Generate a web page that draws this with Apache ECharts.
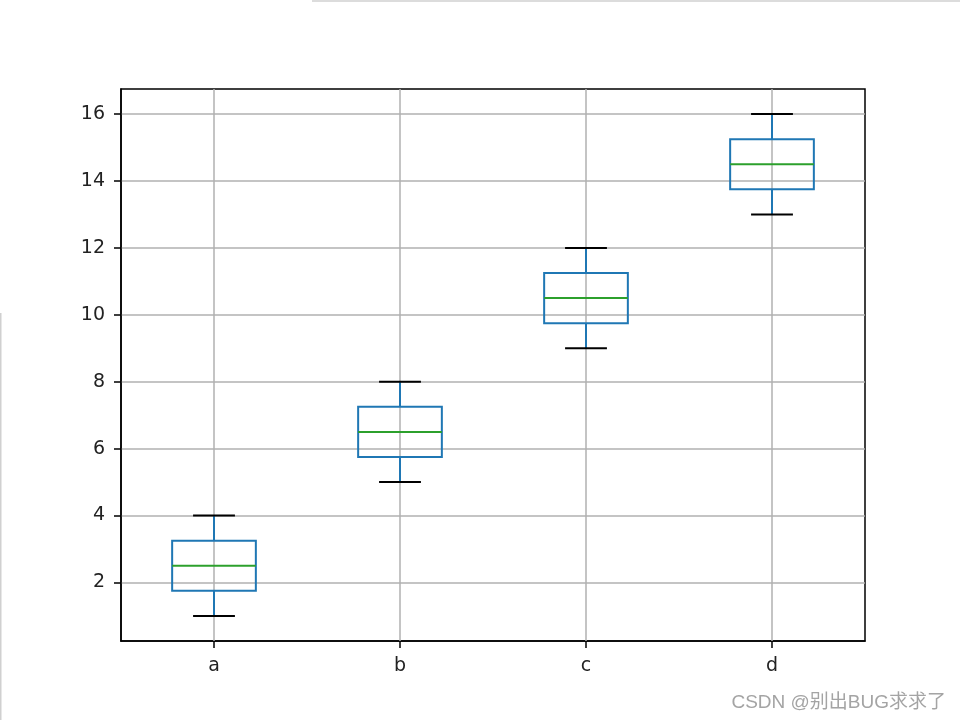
<!DOCTYPE html>
<html>
<head>
<meta charset="utf-8">
<script src="https://cdn.jsdelivr.net/npm/echarts@6/dist/echarts.min.js"></script>
<style>
html,body{margin:0;padding:0;background:#fff;}
#chart{width:960px;height:720px;}
</style>
</head>
<body>
<div id="chart"></div>
<script>
// Box statistics
var categories = ['a', 'b', 'c', 'd'];
var whiskerLow = [1, 5, 9, 13];
var quartile1 = [1.75, 5.75, 9.75, 13.75];
var medians = [2.5, 6.5, 10.5, 14.5];
var quartile3 = [3.25, 7.25, 11.25, 15.25];
var whiskerHigh = [4, 8, 12, 16];
var yTickLabels = [2, 4, 6, 8, 10, 12, 14, 16];
var yMin = 0.25, yMax = 16.75;

var boxData = categories.map(function (c, i) {
  return [i, whiskerLow[i], quartile1[i], medians[i], quartile3[i], whiskerHigh[i]];
});

var FONT = 'DejaVu Sans';
var chart = echarts.init(document.getElementById('chart'), null, {renderer: 'canvas'});

function renderGrid(params, api) {
  var x = api.coord([api.value(0), yMin])[0];
  var cs = params.coordSys;
  return {
    type: 'line',
    shape: {x1: x, y1: cs.y, x2: x, y2: cs.y + cs.height},
    style: {stroke: '#b0b0b0', lineWidth: 1.5},
    silent: true
  };
}

function renderBox(params, api) {
  var idx = api.value(0);
  var pLow = api.coord([idx, api.value(1)]);
  var pQ1 = api.coord([idx, api.value(2)]);
  var pMed = api.coord([idx, api.value(3)]);
  var pQ3 = api.coord([idx, api.value(4)]);
  var pHigh = api.coord([idx, api.value(5)]);
  var band = api.size([1, 0])[0];
  var bw = band * 0.45;
  var cw = bw / 2;
  var cx = pMed[0];
  var blue = '#1f77b4';
  var lw = 2;
  return {
    type: 'group',
    children: [
      {type: 'line', shape: {x1: cx, y1: pQ1[1], x2: cx, y2: pLow[1]}, style: {stroke: blue, lineWidth: lw}},
      {type: 'line', shape: {x1: cx, y1: pQ3[1], x2: cx, y2: pHigh[1]}, style: {stroke: blue, lineWidth: lw}},
      {type: 'rect', shape: {x: cx - bw / 2, y: pQ3[1], width: bw, height: pQ1[1] - pQ3[1]}, style: {fill: null, stroke: blue, lineWidth: lw}},
      {type: 'line', shape: {x1: cx - bw / 2, y1: pMed[1], x2: cx + bw / 2, y2: pMed[1]}, style: {stroke: '#2ca02c', lineWidth: lw}},
      {type: 'line', shape: {x1: cx - cw / 2, y1: pLow[1], x2: cx + cw / 2, y2: pLow[1]}, style: {stroke: '#000', lineWidth: lw}},
      {type: 'line', shape: {x1: cx - cw / 2, y1: pHigh[1], x2: cx + cw / 2, y2: pHigh[1]}, style: {stroke: '#000', lineWidth: lw}}
    ]
  };
}

var option = {
  backgroundColor: '#fff',
  animation: false,
  grid: {
    left: 121, right: 95, top: 89, bottom: 79,
    show: true, borderColor: '#000', borderWidth: 1.5, backgroundColor: 'transparent'
  },
  xAxis: {
    type: 'category',
    data: categories,
    boundaryGap: true,
    axisLine: {show: true, lineStyle: {color: '#000', width: 1.5}},
    axisTick: {show: true, alignWithLabel: true, length: 7, lineStyle: {color: '#000', width: 1.5}},
    axisLabel: {color: '#222', fontFamily: FONT, fontSize: 19, margin: 16},
    splitLine: {show: false}
  },
  yAxis: {
    type: 'value',
    min: yMin, max: yMax, interval: 2,
    axisLine: {show: true, lineStyle: {color: '#000', width: 1.5}},
    axisTick: {show: true, length: 7, lineStyle: {color: '#000', width: 1.5}, customValues: yTickLabels},
    axisLabel: {
      color: '#222', fontFamily: FONT, fontSize: 19, margin: 16,
      customValues: yTickLabels,
      formatter: function (v) { return yTickLabels.indexOf(v) >= 0 ? String(v) : ''; }
    },
    splitLine: {show: true, lineStyle: {color: '#b0b0b0', width: 1.5}}
  },
  graphic: [
    {type: 'line', shape: {x1: 312, y1: 1, x2: 960, y2: 1}, style: {stroke: '#d0d0d0', lineWidth: 1.5}, silent: true},
    {type: 'line', shape: {x1: 0.75, y1: 313, x2: 0.75, y2: 720}, style: {stroke: '#d0d0d0', lineWidth: 1.5}, silent: true},
    {type: 'text', right: 14, bottom: 8, style: {text: 'CSDN @别出BUG求求了', fill: '#a4a4a4', font: '19px "Liberation Sans", "Noto Sans CJK SC", sans-serif'}, silent: true}
  ],
  series: [
    {type: 'custom', name: 'xgrid', renderItem: renderGrid, data: boxData, z: 1, silent: true, encode: {x: 0, y: 3}},
    {type: 'custom', name: 'box', renderItem: renderBox, data: boxData, z: 3, silent: true, encode: {x: 0, y: [1, 2, 3, 4, 5]}}
  ]
};
chart.setOption(option);
</script>
</body>
</html>
